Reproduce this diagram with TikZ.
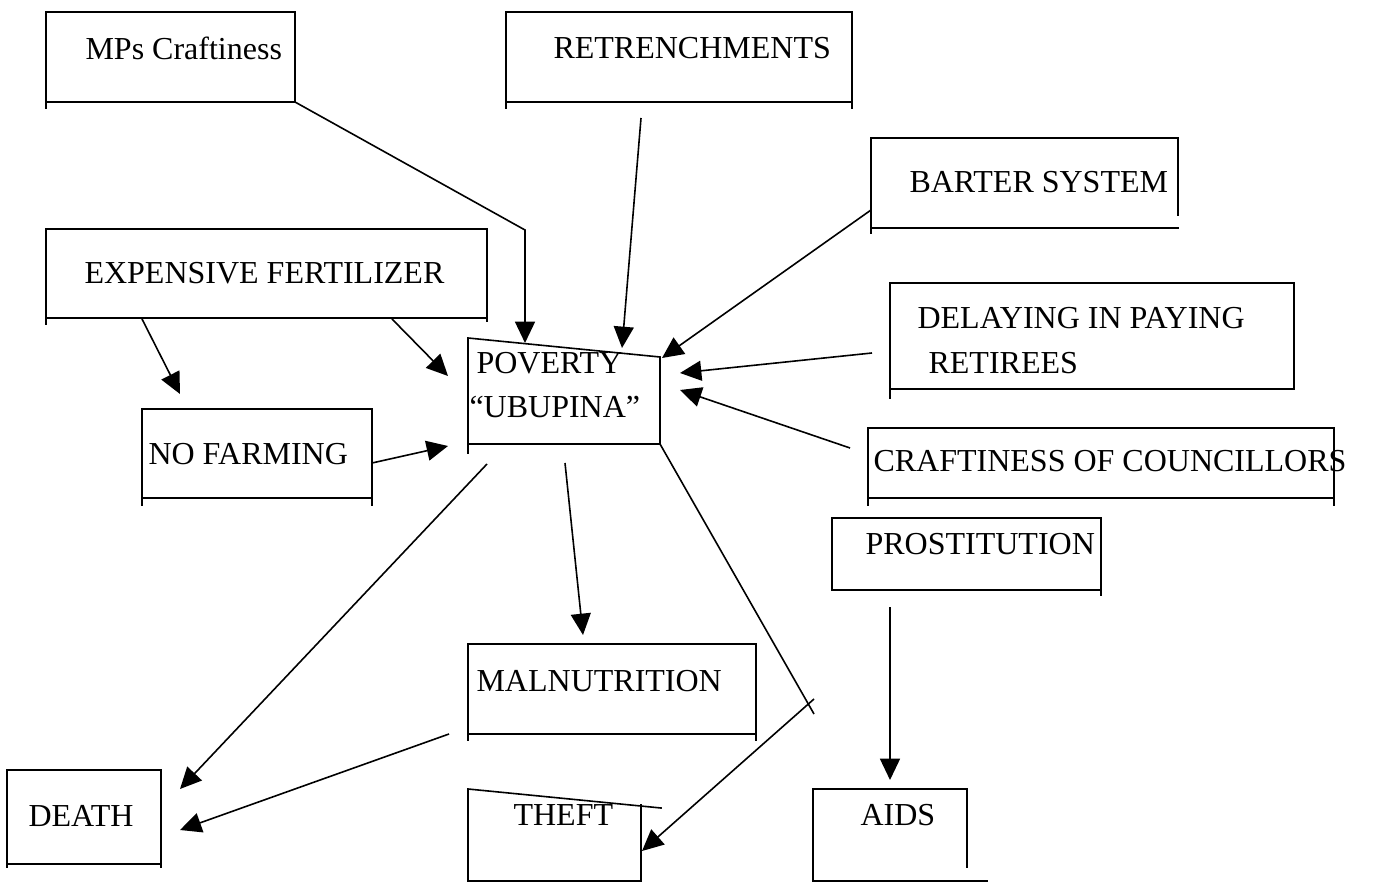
\documentclass[tikz,border=0pt]{standalone}
\usepackage{fontspec}
\setmainfont{Liberation Serif}
\usetikzlibrary{arrows.meta}
\begin{document}
\begin{tikzpicture}[x=0.375pt,y=-0.375pt,
  frame/.style={line width=0.6pt,line cap=rect},
  link/.style={line width=0.6pt},
  arrowlink/.style={line width=0.6pt,-{Triangle[length=8pt,width=7.5pt]}},
  lbl/.style={anchor=base west,inner sep=0pt,font=\fontsize{12}{14}\selectfont}]
\useasboundingbox (0,0) rectangle (1379,882);

% ---- box outlines ----
% MPs Craftiness
\draw[frame] (46,108) -- (46,12) -- (295,12) -- (295,102) (46,102) -- (295,102);
% Retrenchments
\draw[frame] (506,108) -- (506,12) -- (852,12) -- (852,108) (506,102) -- (852,102);
% Barter system
\draw[frame] (871,233) -- (871,138) -- (1178,138) -- (1178,215) (871,228) -- (1178,228);
% Delaying in paying retirees
\draw[frame] (890,398) -- (890,283) -- (1294,283) -- (1294,389) (890,389) -- (1294,389);
% Craftiness of councillors
\draw[frame] (868,505) -- (868,428) -- (1334,428) -- (1334,505) (868,498) -- (1334,498);
% Prostitution
\draw[frame] (832,590) -- (832,518) -- (1101,518) -- (1101,595) (832,590) -- (1101,590);
% Expensive fertilizer
\draw[frame] (46,324) -- (46,229) -- (487,229) -- (487,321) (46,318) -- (487,318);
% No farming
\draw[frame] (142,505) -- (142,409) -- (372,409) -- (372,505) (142,498) -- (372,498);
% Poverty (slanted top edge)
\draw[frame] (468,453) -- (468,338) -- (660,357) -- (660,444) (468,444) -- (660,444);
% Malnutrition
\draw[frame] (468,740) -- (468,644) -- (756,644) -- (756,740) (468,734) -- (756,734);
% Death
\draw[frame] (7,867) -- (7,770) -- (161,770) -- (161,867) (7,864) -- (161,864);
% Theft (slanted top edge)
\draw[frame] (468,882) -- (468,789) -- (661,808) (641,805) -- (641,882) (468,881) -- (641,881);
% Aids
\draw[frame] (813,882) -- (813,789) -- (967,789) -- (967,867) (813,881) -- (987,881);

% ---- labels ----
\node[lbl] (mps) at (85,60) {MPs Craftiness};
\node[lbl] (retr) at (553,59) {RETRENCHMENTS};
\node[lbl] (barter) at (909,193) {BARTER SYSTEM};
\node[lbl] (delayA) at (917,329) {DELAYING IN PAYING};
\node[lbl] (delayB) at (928,374) {RETIREES};
\node[lbl] (counc) at (873,472) {CRAFTINESS OF COUNCILLORS};
\node[lbl] (prost) at (865,555) {PROSTITUTION};
\node[lbl] (expens) at (84,284) {EXPENSIVE FERTILIZER};
\node[lbl] (nofarm) at (148,465) {NO FARMING};
\node[lbl] (povA) at (476,374) {POVERTY};
\node[lbl] (povB) at (469,418) {``UBUPINA''};
\node[lbl] (maln) at (476,691) {MALNUTRITION};
\node[lbl] (death) at (28,826) {DEATH};
\node[lbl] (theft) at (513,825) {THEFT};
\node[lbl] (aids) at (860,825) {AIDS};

% ---- connector end points ----
\coordinate (mpsOut) at (295,102);
\coordinate (mpsBend) at (525,230);
\coordinate (povTopA) at (525,343);
\coordinate (retrOut) at (641,118);
\coordinate (povTopB) at (622,348);
\coordinate (barterOut) at (871,210);
\coordinate (povCorner) at (662,358);
\coordinate (delayOut) at (872,353);
\coordinate (povRightA) at (680,373);
\coordinate (councOut) at (850,448);
\coordinate (povRightB) at (680,390);
\coordinate (expOutA) at (142,319);
\coordinate (nofarmIn) at (180,394);
\coordinate (expOutB) at (392,319);
\coordinate (povLeftA) at (448,376);
\coordinate (nofarmOut) at (372,463);
\coordinate (povLeftB) at (448,446);
\coordinate (povOutA) at (487,464);
\coordinate (deathInA) at (180,789);
\coordinate (povOutB) at (565,463);
\coordinate (malnIn) at (583,635);
\coordinate (povOutC) at (660,444);
\coordinate (theftBendA) at (814,714);
\coordinate (theftBendB) at (814,699);
\coordinate (theftIn) at (642,851);
\coordinate (malnOut) at (449,734);
\coordinate (deathInB) at (180,830);
\coordinate (prostOut) at (890,607);
\coordinate (aidsIn) at (890,780);

% ---- connectors ----
\draw[arrowlink] (mpsOut) -- (mpsBend) -- (povTopA);
\draw[arrowlink] (retrOut) -- (povTopB);
\draw[arrowlink] (barterOut) -- (povCorner);
\draw[arrowlink] (delayOut) -- (povRightA);
\draw[arrowlink] (councOut) -- (povRightB);
\draw[arrowlink] (expOutA) -- (nofarmIn);
\draw[arrowlink] (expOutB) -- (povLeftA);
\draw[arrowlink] (nofarmOut) -- (povLeftB);
\draw[arrowlink] (povOutA) -- (deathInA);
\draw[arrowlink] (povOutB) -- (malnIn);
\draw[link] (povOutC) -- (theftBendA);
\draw[arrowlink] (theftBendB) -- (theftIn);
\draw[arrowlink] (malnOut) -- (deathInB);
\draw[arrowlink] (prostOut) -- (aidsIn);
\end{tikzpicture}
\end{document}
